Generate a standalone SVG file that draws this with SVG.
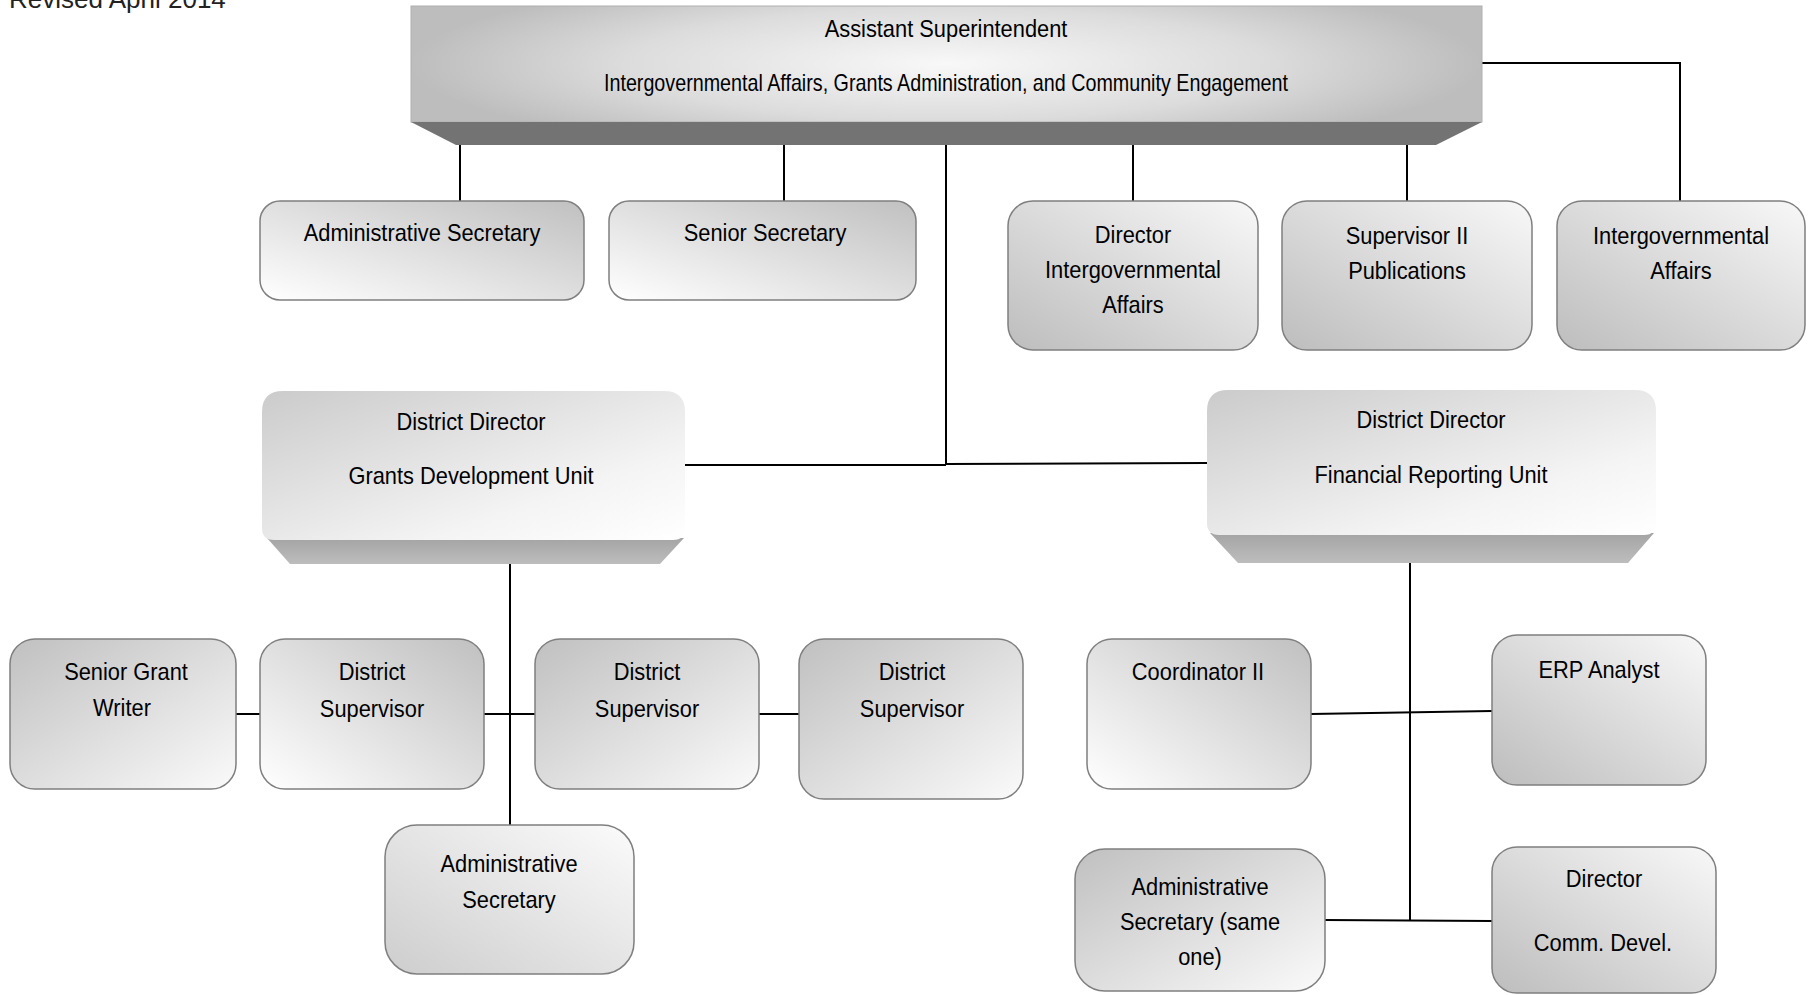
<svg xmlns="http://www.w3.org/2000/svg" width="1811" height="995" viewBox="0 0 1811 995">
<defs>
<linearGradient id="gA" x1="0" y1="1" x2="1" y2="0"><stop offset="0" stop-color="#ffffff"/><stop offset="1" stop-color="#c0c0c0"/></linearGradient>
<linearGradient id="gB" x1="0" y1="1" x2="1" y2="0"><stop offset="0" stop-color="#bdbdbd"/><stop offset="1" stop-color="#f8f8f8"/></linearGradient>
<linearGradient id="gB2" x1="0" y1="1" x2="1" y2="0"><stop offset="0" stop-color="#cdcdcd"/><stop offset="1" stop-color="#fbfbfb"/></linearGradient>
<linearGradient id="gC" x1="0" y1="0" x2="1" y2="1"><stop offset="0" stop-color="#c0c0c0"/><stop offset="1" stop-color="#fafafa"/></linearGradient>
<linearGradient id="gD" x1="0" y1="0" x2="1" y2="1"><stop offset="0" stop-color="#cbcbcb"/><stop offset="0.7" stop-color="#f4f4f4"/><stop offset="1" stop-color="#ffffff"/></linearGradient>
<linearGradient id="gS" x1="0" y1="0" x2="0" y2="1"><stop offset="0" stop-color="#a4a4a4"/><stop offset="1" stop-color="#bdbdbd"/></linearGradient>
<radialGradient id="gT" cx="0.5" cy="0.5" r="0.5" gradientTransform="translate(0.5 0.5) scale(1 1.6) translate(-0.5 -0.5)"><stop offset="0" stop-color="#f8f8f8"/><stop offset="0.6" stop-color="#dcdcdc"/><stop offset="1" stop-color="#bdbdbd"/></radialGradient>
<style>
.b{stroke:#7f7f7f;stroke-width:1.5}
.t{font-family:"Liberation Sans",Arial,Helvetica,sans-serif;font-size:24px;fill:#000;text-anchor:middle;transform-box:fill-box;transform-origin:center;transform:scaleX(0.91)}
.c{stroke:#000;stroke-width:2;fill:none}
</style>
</defs>
<rect width="1811" height="995" fill="#ffffff"/>
<text x="9" y="8" style="font-family:'Liberation Sans',Arial,sans-serif;font-size:26px;fill:#222">Revised April 2014</text>

<g id="connectors">
<line class="c" x1="460" y1="144" x2="460" y2="201"/>
<line class="c" x1="784" y1="144" x2="784" y2="201"/>
<line class="c" x1="1133" y1="144" x2="1133" y2="201"/>
<line class="c" x1="1407" y1="144" x2="1407" y2="201"/>
<polyline class="c" points="1482,63 1680,63 1680,201"/>
<line class="c" x1="946" y1="144" x2="946" y2="465"/>
<line class="c" x1="684" y1="465" x2="946" y2="465"/>
<line class="c" x1="946" y1="464" x2="1207" y2="463"/>
<line class="c" x1="510" y1="564" x2="510" y2="825"/>
<line class="c" x1="236" y1="714" x2="260" y2="714"/>
<line class="c" x1="484" y1="714" x2="535" y2="714"/>
<line class="c" x1="759" y1="714" x2="799" y2="714"/>
<line class="c" x1="1410" y1="562" x2="1410" y2="921"/>
<line class="c" x1="1311" y1="714" x2="1492" y2="711"/>
<line class="c" x1="1325" y1="920" x2="1492" y2="921"/>
</g>

<g id="n-asst-supt">
<rect x="411" y="6" width="1071" height="116" fill="url(#gT)" stroke="#b0b0b0" stroke-width="1"/>
<polygon points="411,122 1482,122 1436,145 456,145" fill="#737373"/>
<text class="t" x="946" y="37">Assistant Superintendent</text>
<text x="946" y="91" textLength="684" lengthAdjust="spacingAndGlyphs" style="font-family:'Liberation Sans',Arial,sans-serif;font-size:24px;text-anchor:middle">Intergovernmental Affairs, Grants Administration, and Community Engagement</text>
</g>

<g id="n-admin-sec-1">
<rect class="b" x="260" y="201" width="324" height="99" rx="20" fill="url(#gA)"/>
<text class="t" x="422" y="241">Administrative Secretary</text>
</g>
<g id="n-senior-sec">
<rect class="b" x="609" y="201" width="307" height="99" rx="20" fill="url(#gA)"/>
<text class="t" x="765" y="241">Senior Secretary</text>
</g>
<g id="n-dir-ia">
<rect class="b" x="1008" y="201" width="250" height="149" rx="25" fill="url(#gB)"/>
<text class="t" x="1133" y="243">Director</text>
<text class="t" x="1133" y="278">Intergovernmental</text>
<text class="t" x="1133" y="313">Affairs</text>
</g>
<g id="n-sup-pub">
<rect class="b" x="1282" y="201" width="250" height="149" rx="25" fill="url(#gB)"/>
<text class="t" x="1407" y="244">Supervisor II</text>
<text class="t" x="1407" y="279">Publications</text>
</g>
<g id="n-ia">
<rect class="b" x="1557" y="201" width="248" height="149" rx="25" fill="url(#gB)"/>
<text class="t" x="1681" y="244">Intergovernmental</text>
<text class="t" x="1681" y="279">Affairs</text>
</g>

<g id="n-dd-grants">
<path d="M267,538 L684,538 L660,564 L290,564 Z" fill="url(#gS)"/>
<path d="M283,391 L664,391 Q685,391 685,412 L685,528 Q685,540 673,540 L274,540 Q262,540 262,528 L262,412 Q262,391 283,391 Z" fill="url(#gD)"/>
<text class="t" x="471" y="430">District Director</text>
<text class="t" x="471" y="484">Grants Development Unit</text>
</g>
<g id="n-dd-finance">
<path d="M1210,533 L1654,533 L1628,563 L1238,563 Z" fill="url(#gS)"/>
<path d="M1228,390 L1635,390 Q1656,390 1656,411 L1656,523 Q1656,535 1644,535 L1219,535 Q1207,535 1207,523 L1207,411 Q1207,390 1228,390 Z" fill="url(#gD)"/>
<text class="t" x="1431" y="428">District Director</text>
<text class="t" x="1431" y="483">Financial Reporting Unit</text>
</g>

<g id="n-sr-grant-writer">
<rect class="b" x="10" y="639" width="226" height="150" rx="25" fill="url(#gC)"/>
<text class="t" x="126" y="680">Senior Grant</text>
<text class="t" x="122" y="716">Writer</text>
</g>
<g id="n-dist-sup-1">
<rect class="b" x="260" y="639" width="224" height="150" rx="25" fill="url(#gA)"/>
<text class="t" x="372" y="680">District</text>
<text class="t" x="372" y="717">Supervisor</text>
</g>
<g id="n-dist-sup-2">
<rect class="b" x="535" y="639" width="224" height="150" rx="25" fill="url(#gC)"/>
<text class="t" x="647" y="680">District</text>
<text class="t" x="647" y="717">Supervisor</text>
</g>
<g id="n-dist-sup-3">
<rect class="b" x="799" y="639" width="224" height="160" rx="25" fill="url(#gC)"/>
<text class="t" x="912" y="680">District</text>
<text class="t" x="912" y="717">Supervisor</text>
</g>
<g id="n-admin-sec-2">
<rect class="b" x="385" y="825" width="249" height="149" rx="32" fill="url(#gB2)"/>
<text class="t" x="509" y="872">Administrative</text>
<text class="t" x="509" y="908">Secretary</text>
</g>

<g id="n-coord-2">
<rect class="b" x="1087" y="639" width="224" height="150" rx="25" fill="url(#gA)"/>
<text class="t" x="1198" y="680">Coordinator II</text>
</g>
<g id="n-erp">
<rect class="b" x="1492" y="635" width="214" height="150" rx="25" fill="url(#gB)"/>
<text class="t" x="1599" y="678">ERP Analyst</text>
</g>
<g id="n-admin-sec-same">
<rect class="b" x="1075" y="849" width="250" height="142" rx="30" fill="url(#gC)"/>
<text class="t" x="1200" y="895">Administrative</text>
<text class="t" x="1200" y="930">Secretary (same</text>
<text class="t" x="1200" y="965">one)</text>
</g>
<g id="n-dir-comm">
<rect class="b" x="1492" y="847" width="224" height="146" rx="25" fill="url(#gB)"/>
<text class="t" x="1604" y="887">Director</text>
<text class="t" x="1603" y="951">Comm. Devel.</text>
</g>
</svg>
